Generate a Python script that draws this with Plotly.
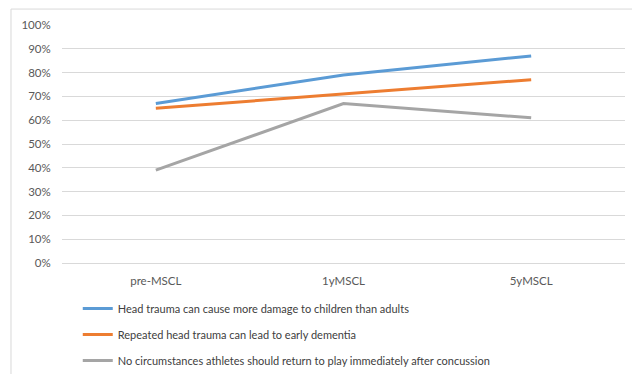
import plotly.graph_objects as go

categories = ["pre-MSCL", "1yMSCL", "5yMSCL"]
head_trauma_children = [0.67, 0.79, 0.87]
repeated_trauma_dementia = [0.65, 0.71, 0.77]
no_return_to_play = [0.39, 0.67, 0.61]
series_names = [
    "Head trauma can cause more damage to children than adults",
    "Repeated head trauma can lead to early dementia",
    "No circumstances athletes should return to play immediately after concussion",
]
colors = ["#5B9BD5", "#ED7D31", "#A5A5A5"]
y_ticks = [i / 10 for i in range(11)]

fig = go.Figure()
for i, (name, vals) in enumerate(zip(series_names, [head_trauma_children, repeated_trauma_dementia, no_return_to_play])):
    fig.add_trace(go.Scatter(
        x=categories, y=vals, mode="lines", name=name,
        line=dict(color=colors[i], width=3),
        legendgroup=f"g{i}",
    ))

font_family = "Lato, 'Open Sans', sans-serif"
fig.update_layout(
    width=632, height=366,
    margin=dict(l=54, r=15, t=17, b=111, autoexpand=False),
    paper_bgcolor="white", plot_bgcolor="white",
    font=dict(family=font_family, size=11, color="#595959"),
    showlegend=True,
    legend=dict(
        orientation="v", x=0.028, y=-0.13, xanchor="left", yanchor="top",
        font=dict(family=font_family, size=11, color="#404040"),
        tracegroupgap=7, bgcolor="rgba(0,0,0,0)",
    ),
    xaxis=dict(
        type="category", range=[-0.5, 2.5], showgrid=False, zeroline=False,
        showline=False, ticks="outside", ticklen=7, tickcolor="rgba(0,0,0,0)",
        tickfont=dict(family=font_family, size=11.5, color="#595959"),
    ),
    yaxis=dict(
        range=[0, 1], tickvals=y_ticks, tickformat=".0%",
        showgrid=True, gridcolor="#D9D9D9", gridwidth=1,
        zeroline=True, zerolinecolor="#D9D9D9", zerolinewidth=1,
        showline=False, ticks="outside", ticklen=8, tickcolor="rgba(0,0,0,0)",
        tickfont=dict(family=font_family, size=11.5, color="#595959"),
    ),
    shapes=[dict(
        type="rect", xref="paper", yref="paper",
        x0=-0.0906, x1=1.2, y0=-0.7, y1=1.067,
        line=dict(color="#D9D9D9", width=1), fillcolor="rgba(0,0,0,0)", layer="below",
    )],
)

fig.write_html("out.html")
